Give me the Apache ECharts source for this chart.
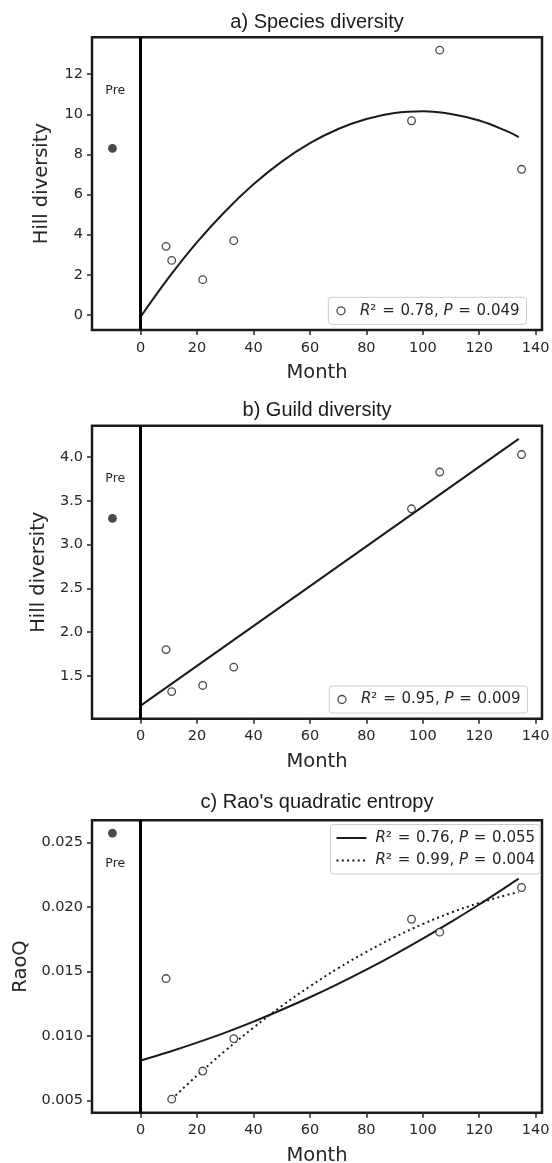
<!DOCTYPE html>
<html><head><meta charset="utf-8">
<script src="https://cdn.jsdelivr.net/npm/echarts@6.0.0/dist/echarts.min.js"></script>
<style>html,body{margin:0;padding:0;background:#fff}#c{width:552px;height:1163px}</style>
</head><body><div id="c"></div>
<script>
// ---------- data ----------
const postMonths = [9, 11, 22, 33, 96, 106, 135];
const preMonth = -10;

const speciesPost = [3.42, 2.72, 1.76, 3.70, 9.68, 13.20, 7.26];
const speciesPre = 8.30;
const guildPost = [1.80, 1.32, 1.39, 1.60, 3.41, 3.83, 4.03];
const guildPre = 3.30;
const raoPost = [0.01445, 0.00510, 0.00728, 0.00979, 0.01905, 0.01805, 0.02151];
const raoPre = 0.02572;

// fitted curves
const fitMonths = [0, 10, 20, 30, 40, 50, 60, 70, 80, 90, 100, 110, 120, 130, 134];
const speciesFit = [-0.09, 1.87, 3.63, 5.17, 6.51, 7.64, 8.56, 9.27, 9.77, 10.07, 10.15, 10.02, 9.69, 9.15, 8.87];
const guildFitMonths = [0, 134];
const guildFit = [1.16, 4.21];
const raoFitSolid = [0.00810, 0.00876, 0.00948, 0.01026, 0.01111, 0.01203, 0.01300, 0.01404, 0.01514, 0.01631, 0.01754, 0.01884, 0.02019, 0.02162, 0.02220];
const raoDottedMonths = [11, 20, 30, 40, 50, 60, 70, 80, 90, 100, 110, 120, 130, 134];
const raoFitDotted = [0.00510, 0.00694, 0.00886, 0.01065, 0.01232, 0.01385, 0.01525, 0.01652, 0.01766, 0.01868, 0.01956, 0.02031, 0.02094, 0.02115];

// ticks and texts
const monthTicks = [0, 20, 40, 60, 80, 100, 120, 140];
const speciesTicks = [0, 2, 4, 6, 8, 10, 12];
const guildTicks = [1.5, 2.0, 2.5, 3.0, 3.5, 4.0];
const raoTicks = [0.005, 0.010, 0.015, 0.020, 0.025];
const titles = ['a) Species diversity', 'b) Guild diversity', "c) Rao's quadratic entropy"];
const yNames = ['Hill diversity', 'Hill diversity', 'RaoQ'];
const xName = 'Month';
const preText = 'Pre';
const statsA = ['0.78', '0.049'];
const statsB = ['0.95', '0.009'];
const statsC1 = ['0.76', '0.055'];
const statsC2 = ['0.99', '0.004'];

// ---------- helpers ----------
const pair = (xs, ys) => xs.map((x, i) => [x, ys[i]]);
const statName = s => 'R² = ' + s[0] + ', P = ' + s[1];
const nameA = statName(statsA), nameB = statName(statsB), nameC1 = statName(statsC1), nameC2 = statName(statsC2);
const statLookup = {}; statLookup[nameA] = statsA; statLookup[nameB] = statsB; statLookup[nameC1] = statsC1; statLookup[nameC2] = statsC2;

const INK = '#1a1a1a', TXT = '#262626';
const TICKFONT = 'DejaVu Sans';
const TICKSIZE = 14.5;
const panels = [
  {top: 37.3, height: 292.7, ymin: -0.75, ymax: 13.84, ticks: speciesTicks, fmt: v => String(Math.round(v)), nameGap: 40, titleTop: 12.5, preY: 11.2},
  {top: 425.7, height: 293, ymin: 1.01, ymax: 4.36, ticks: guildTicks, fmt: v => v.toFixed(1), nameGap: 40, titleTop: 400.5, preY: 3.75},
  {top: 820.3, height: 292.4, ymin: 0.00405, ymax: 0.02672, ticks: raoTicks, fmt: v => v.toFixed(3), nameGap: 61, titleTop: 792.5, preY: 0.02337}
];

const grid = panels.map(p => ({left: 92, width: 450, top: p.top, height: p.height, show: true,
  borderColor: INK, borderWidth: 2.5, backgroundColor: 'transparent', containLabel: false, outerBoundsMode: 'none'}));

const xAxis = panels.map((p, i) => ({
  gridIndex: i, type: 'value', min: -17.25, max: 142.25,
  splitLine: {show: false},
  axisLine: {show: false, onZero: false},
  axisTick: {show: true, inside: false, length: 5, lineStyle: {color: TXT, width: 1.5}, customValues: monthTicks},
  axisLabel: {show: true, customValues: monthTicks, margin: 10.5, fontSize: TICKSIZE, fontFamily: TICKFONT, color: TXT},
  name: xName, nameLocation: 'middle', nameGap: 33,
  nameTextStyle: {fontFamily: 'DejaVu Sans', fontSize: 19.5, color: TXT}
}));

const yAxis = panels.map((p, i) => ({
  gridIndex: i, type: 'value', min: p.ymin, max: p.ymax,
  splitLine: {show: false},
  axisLine: {show: false, onZero: false},
  axisTick: {show: true, inside: false, length: 5, lineStyle: {color: TXT, width: 1.5}, customValues: p.ticks},
  axisLabel: {show: true, customValues: p.ticks, margin: 9, fontSize: TICKSIZE, fontFamily: TICKFONT, color: TXT, formatter: p.fmt},
  name: yNames[i], nameLocation: 'middle', nameRotate: 90, nameGap: p.nameGap,
  nameTextStyle: {fontFamily: 'DejaVu Sans', fontSize: 19.5, color: TXT}
}));

const title = panels.map((p, i) => ({
  text: titles[i], left: 317, top: p.titleTop, textAlign: 'center', padding: 0,
  textStyle: {fontFamily: 'Liberation Sans', fontSize: 20, fontWeight: 'normal', color: INK}
}));

const vline = {
  silent: true, symbol: ['none', 'none'], label: {show: false},
  lineStyle: {color: '#000', width: 3, type: 'solid'}, emphasis: {disabled: true},
  data: [{xAxis: 0}]
};

function fitLine(i, name, pts, dash, withVline) {
  const s = {type: 'line', name: name, xAxisIndex: i, yAxisIndex: i, data: pts, smooth: 0.4,
    symbol: 'none', showSymbol: false, silent: true, z: 2,
    lineStyle: {color: INK, width: 2, type: dash || 'solid', cap: 'butt'}};
  if (withVline) s.markLine = vline;
  return s;
}
function openPts(i, name, ys) {
  return {type: 'scatter', name: name, xAxisIndex: i, yAxisIndex: i, data: pair(postMonths, ys),
    symbol: 'circle', symbolSize: 7.6, z: 4, silent: true,
    itemStyle: {color: '#ffffff', borderColor: INK, borderWidth: 1.3}};
}
function prePt(i, y, p) {
  return {type: 'scatter', name: 'pre' + i, xAxisIndex: i, yAxisIndex: i, data: [[preMonth, y]],
    symbol: 'circle', symbolSize: 8.8, z: 4, silent: true, itemStyle: {color: INK},
    markPoint: {silent: true, symbol: 'circle', symbolSize: 0,
      label: {show: true, position: 'inside', formatter: preText, fontFamily: 'DejaVu Sans', fontSize: 12.5, color: TXT},
      data: [{coord: [-9, p.preY]}]}};
}

const series = [
  fitLine(0, 'fitA', pair(fitMonths, speciesFit), null, true),
  openPts(0, nameA, speciesPost),
  prePt(0, speciesPre, panels[0]),
  fitLine(1, 'fitB', pair(guildFitMonths, guildFit), null, true),
  openPts(1, nameB, guildPost),
  prePt(1, guildPre, panels[1]),
  fitLine(2, nameC1, pair(fitMonths, raoFitSolid), null, true),
  fitLine(2, nameC2, pair(raoDottedMonths, raoFitDotted), [2, 3.3], false),
  openPts(2, 'raoPts', raoPost),
  prePt(2, raoPre, panels[2])
];

const LS = 15;
const legendText = {
  fontFamily: 'DejaVu Sans', fontSize: LS, color: TXT,
  rich: {
    i: {fontFamily: 'DejaVu Sans', fontSize: LS, fontStyle: 'italic', color: TXT},
    t: {fontFamily: 'DejaVu Sans', fontSize: LS, color: TXT},
    e: {fontFamily: 'DejaVu Sans', fontSize: LS, color: TXT, padding: [0, 1, 0, 1]},
    g: {width: 4}
  }
};
const fmtLegend = gap => name => {
  const s = statLookup[name];
  return (gap ? '{g| }' : '') + '{i|R}{t|²}{e| = }{t|' + s[0] + ', }{i|P}{e| = }{t|' + s[1] + '}';
};
const legendBox = {backgroundColor: 'rgba(255,255,255,0.8)', borderColor: '#cccccc', borderWidth: 1, borderRadius: 3,
  selectedMode: false, textStyle: legendText};

const legend = [
  Object.assign({}, legendBox, {left: 328.3, top: 297.3, orient: 'horizontal', padding: [6, 7, 6, 8],
    itemWidth: 28, itemHeight: 8, formatter: fmtLegend(false),
    data: [{name: nameA, icon: 'circle', itemStyle: {color: '#fff', borderColor: INK, borderWidth: 1.3}}]}),
  Object.assign({}, legendBox, {left: 329.3, top: 686, orient: 'horizontal', padding: [6, 7, 6, 8],
    itemWidth: 28, itemHeight: 8, formatter: fmtLegend(false),
    data: [{name: nameB, icon: 'circle', itemStyle: {color: '#fff', borderColor: INK, borderWidth: 1.3}}]}),
  Object.assign({}, legendBox, {left: 330.5, top: 824.5, orient: 'vertical', padding: [6, 5, 6, 5],
    itemWidth: 30, itemHeight: 10, itemGap: 7.5, formatter: fmtLegend(true),
    data: [
      {name: nameC1, itemStyle: {opacity: 0}, lineStyle: {color: INK, width: 2, type: 'solid'}},
      {name: nameC2, itemStyle: {opacity: 0}, lineStyle: {color: INK, width: 2, type: [2, 3.3]}}
    ]})
];

const chart = echarts.init(document.getElementById('c'), null, {renderer: 'canvas'});
chart.setOption({
  animation: false,
  backgroundColor: '#ffffff',
  title: title,
  grid: grid,
  xAxis: xAxis,
  yAxis: yAxis,
  legend: legend,
  tooltip: {show: false},
  series: series
});
</script>
</body></html>
